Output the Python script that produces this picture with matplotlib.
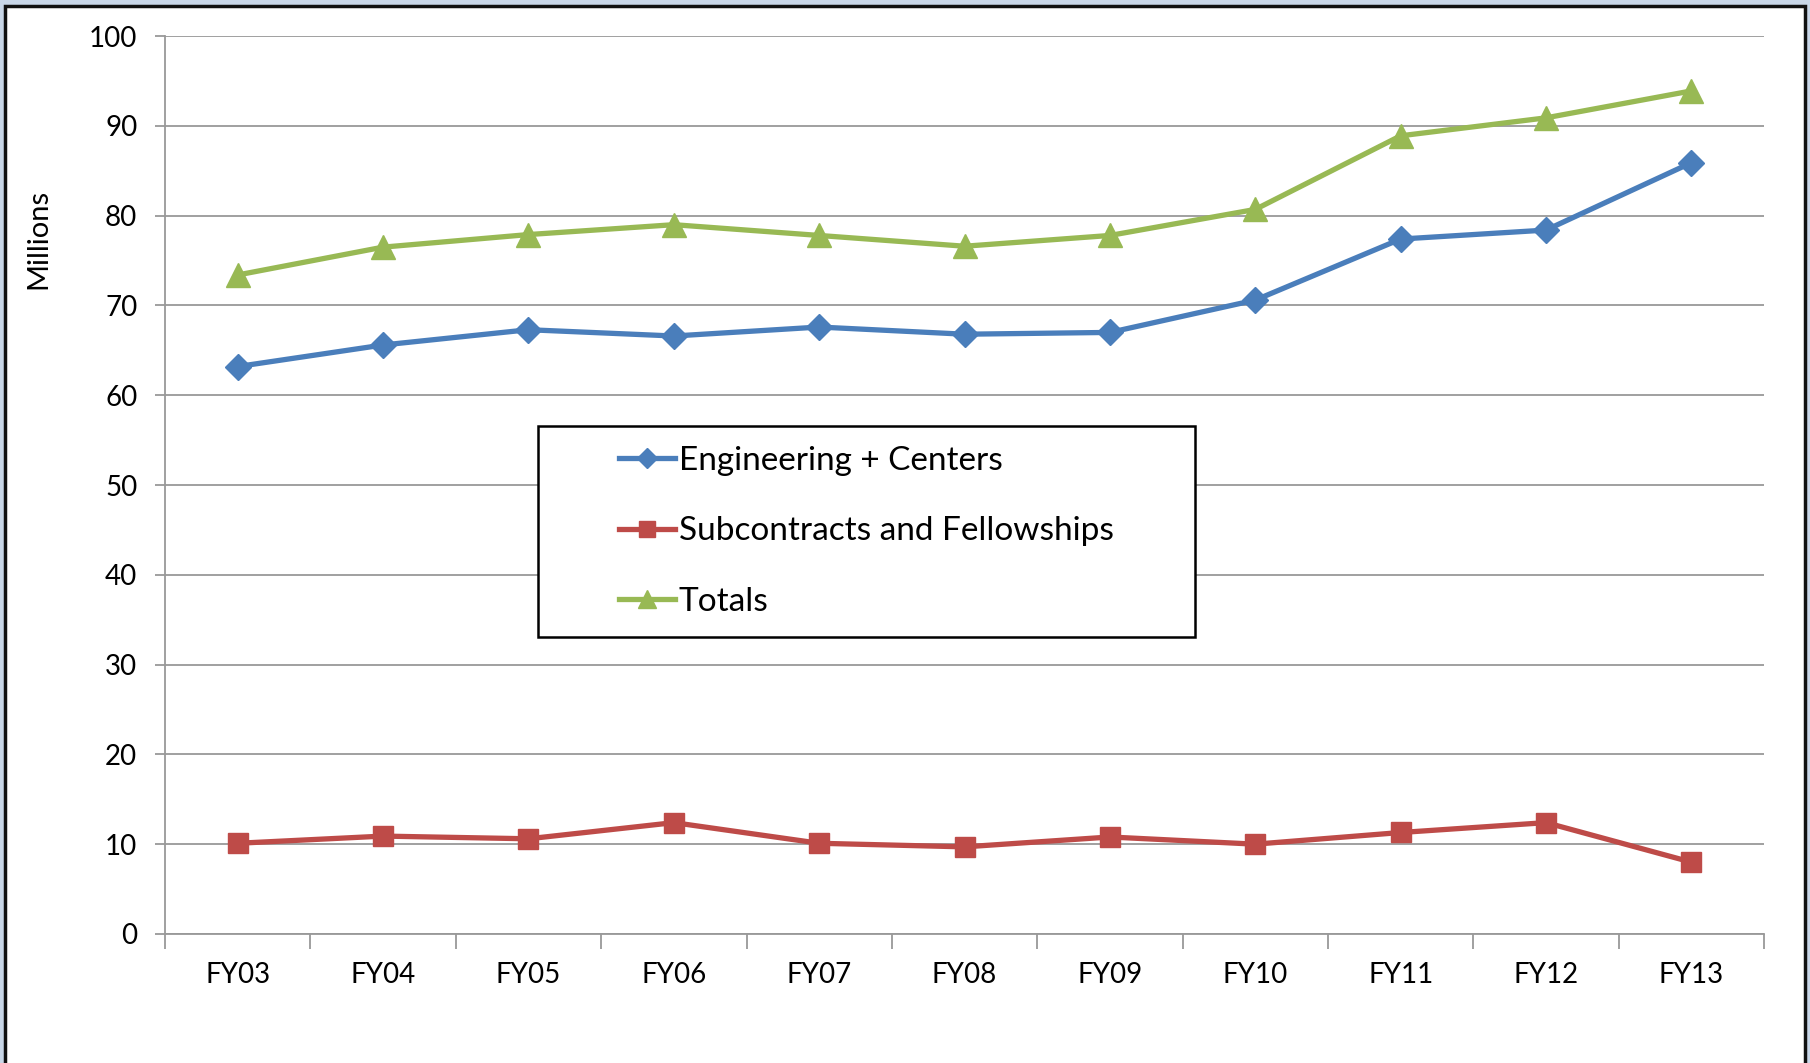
import matplotlib.pyplot as plt
from matplotlib.patches import Rectangle

# values (millions)
years = ["FY03", "FY04", "FY05", "FY06", "FY07", "FY08", "FY09", "FY10", "FY11", "FY12", "FY13"]
engineering = [63.2, 65.6, 67.3, 66.6, 67.6, 66.8, 67.0, 70.6, 77.4, 78.4, 85.9]
subcontracts = [10.1, 10.9, 10.6, 12.4, 10.1, 9.7, 10.8, 10.0, 11.3, 12.4, 8.0]
totals = [73.4, 76.5, 77.9, 79.0, 77.8, 76.6, 77.8, 80.7, 88.9, 90.9, 93.9]

plt.rcParams["font.family"] = ["Lato", "DejaVu Sans"]

fig = plt.figure(figsize=(18.1, 10.63), dpi=100, facecolor="#c9d7e8")
# white panel with black frame, like the pasted Excel chart
fig.patches.append(Rectangle((5 / 1810, -0.05), 1800 / 1810, 1.05 - 6 / 1063,
                             transform=fig.transFigure, facecolor="white",
                             edgecolor="#111111", linewidth=2.5, zorder=-5))

ax = fig.add_axes([0.0912, 0.1214, 0.8834, 0.8446])
ax.set_facecolor("none")
ax.set_zorder(2)

x = list(range(len(years)))
ax.plot(x, engineering, color="#4a7ebb", lw=3.8, marker="D", ms=13,
        label="Engineering + Centers", zorder=3)
ax.plot(x, subcontracts, color="#be4b48", lw=3.8, marker="s", ms=15,
        label="Subcontracts and Fellowships", zorder=3)
ax.plot(x, totals, color="#98b954", lw=3.8, marker="^", ms=17,
        label="Totals", zorder=3)

ax.set_xlim(-0.5, len(years) - 0.5)
ax.set_ylim(0, 100)
ax.set_yticks(range(0, 101, 10))
ax.grid(axis="y", color="#999999", lw=1.3)
ax.set_axisbelow(True)

ax.set_xticks(x)
ax.set_xticklabels(years, fontsize=20)
ax.set_xticks([i - 0.5 for i in range(len(years) + 1)], minor=True)
ax.tick_params(axis="x", which="major", length=0, pad=20)
ax.tick_params(axis="x", which="minor", length=11, color="#999999", width=1.3)
ax.tick_params(axis="y", labelsize=20, length=7, color="#999999", width=1.3, pad=13)

for side in ("top", "right"):
    ax.spines[side].set_visible(False)
for side in ("left", "bottom"):
    ax.spines[side].set_color("#999999")
    ax.spines[side].set_linewidth(1.3)

fig.text(38 / 1810, 1 - 239 / 1063, "Millions", rotation=90, fontsize=21,
         ha="center", va="center")

# legend frame drawn separately so the entries sit centred inside a wide box
box = (0.233, 0.331, 0.411, 0.235)
ax.add_patch(Rectangle(box[:2], box[2], box[3], transform=ax.transAxes,
                       facecolor="white", edgecolor="black", lw=1.8, zorder=4))
leg = ax.legend(loc="center", bbox_to_anchor=(box[0] + box[2] / 2, box[1] + box[3] / 2),
                fontsize=24, frameon=False, handlelength=1.7, handletextpad=0.1,
                labelspacing=1.22, markerscale=0.75, borderaxespad=0)
leg.set_zorder(5)

fig.savefig("out.png", dpi=100, facecolor=fig.get_facecolor())
